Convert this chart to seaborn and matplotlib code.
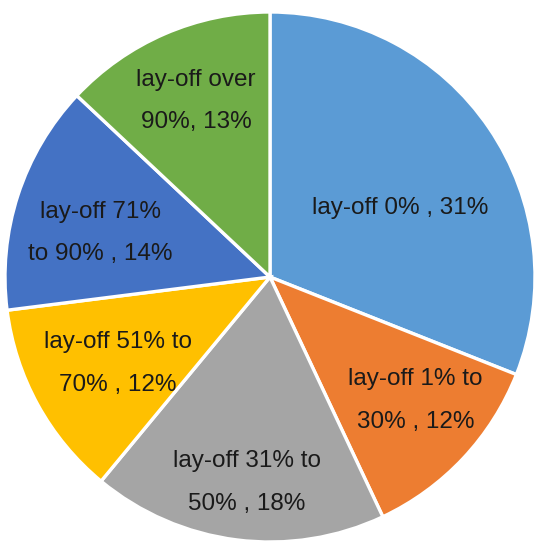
import numpy as np
import matplotlib
matplotlib.use("Agg")
import matplotlib.pyplot as plt
import seaborn as sns

labels = ["lay-off 0% , 31%", "lay-off 1% to\n30% , 12%", "lay-off 31% to\n50% , 18%",
          "lay-off 51% to\n70% , 12%", "lay-off 71%\nto 90% , 14%", "lay-off over\n90%, 13%"]
values = [31, 12, 18, 12, 14, 13]
colors = ["#5B9BD5", "#ED7D31", "#A5A5A5", "#FFC000", "#4472C4", "#70AD47"]
# label placement: (fraction of radius, angle in degrees)
label_pos = [(0.555, 27.9), (0.72, -40.3), (0.78, -96.4), (0.66, -150.4), (0.66, 165.5), (0.72, 112.8)]

sns.set_theme(style="white")
plt.rcParams['font.family'] = ['Liberation Sans', 'DejaVu Sans']

W, H = 539, 542
fig = plt.figure(figsize=(W / 100, H / 100), dpi=100)
ax = fig.add_axes([0, 0, 1, 1])

wedges, _ = ax.pie(values, colors=colors, startangle=90, counterclock=False,
                   wedgeprops=dict(edgecolor="white", linewidth=2.4))

for lab, (d, a) in zip(labels, label_pos):
    ang = np.deg2rad(a)
    ax.text(d * np.cos(ang), d * np.sin(ang), lab, ha="center", va="center",
            fontsize=17.5, color="#1a1a1a", linespacing=2.2)

R = 265.0
cx, cy = 270.0, 277.0
ax.set_aspect("auto")
ax.set_xlim(-cx / R, (W - cx) / R)
ax.set_ylim(-(H - cy) / R, cy / R)
ax.axis("off")
fig.savefig("out.png", dpi=100)
